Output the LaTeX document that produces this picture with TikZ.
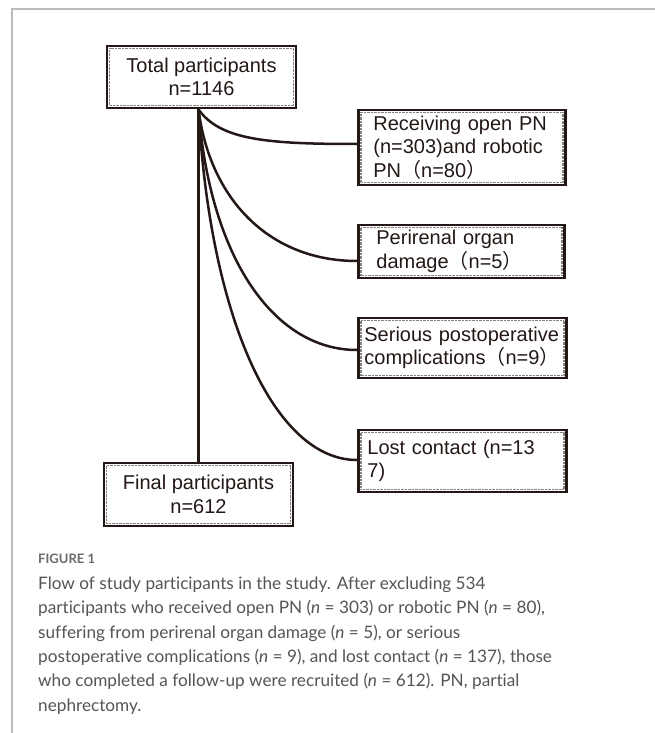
\documentclass[tikz,border=0pt]{standalone}
\usepackage{fontspec}
\setmainfont{Liberation Sans}
\newfontfamily\cjk{Noto Sans CJK SC}
\newfontfamily\capfont[Ligatures=NoCommon]{Lato}
\usetikzlibrary{calc}
\definecolor{ink}{HTML}{231815}
\definecolor{framec}{HTML}{BBBBBB}
\definecolor{capc}{HTML}{555555}
\definecolor{figc}{HTML}{6A6A6A}
\newcommand{\lp}{{\cjk （}}
\newcommand{\rp}{{\cjk ）}}
\tikzset{
  flowbox/.style={draw=ink, line width=2.8pt, fill=white, inner ysep=0pt,
    text=ink, font=\fontsize{20}{23.5}\selectfont,
    execute at begin node={\hyphenpenalty=10000\exhyphenpenalty=10000},
    path picture={\draw[ink!55, line width=1.3pt, dash pattern=on 0.7pt off 0.7pt]
      ([shift={(2.5pt,-2.5pt)}]path picture bounding box.north west) rectangle
      ([shift={(-2.5pt,2.5pt)}]path picture bounding box.south east);}},
  cbox/.style={flowbox, align=center, inner xsep=0pt},
  rbox/.style={flowbox, align=left, anchor=west},
  link/.style={draw=ink, line width=2.5pt},
  capline/.style={anchor=base west, inner sep=0pt, text=capc, font=\capfont\fontsize{17.2}{20}\selectfont},
  frameline/.style={draw=framec, line width=1.5pt}
}
\begin{document}
\begin{tikzpicture}[x=1pt,y=-1pt]
\useasboundingbox (0,0) rectangle (655,733);
\fill[white] (0,0) rectangle (655,733);
\draw[frameline] (655,9) -- (12,9) -- (12,733);

% boxes
\node[cbox, minimum width=189pt, minimum height=62pt] (tot) at (201.5,77) {Total participants\\n=1146};
\node[cbox, minimum width=189pt, minimum height=63pt] (fin) at (198.5,494.5) {Final participants\\n=612};
\node[rbox, inner xsep=15pt, text width=177pt, minimum height=75pt] (b2) at (357,147.5) {Receiving open PN\\(n=303)and robotic\\PN\lp n=80\rp};
\node[rbox, inner xsep=18pt, text width=170pt, minimum height=53pt] (b3) at (357,251.5) {Perirenal organ\\damage\lp n=5\rp};
\node[rbox, inner xsep=6pt, text width=196pt, minimum height=60pt] (b4) at (357,348) {Serious postoperative\\complications\lp n=9\rp};
\node[rbox, inner xsep=9pt, text width=190pt, minimum height=62pt] (b5) at (357,461) {Lost contact (n=13\\7)};

% connectors
\coordinate (tp) at (fin.north |- tot.south);
\draw[link] (tp) -- (fin.north);
\draw[link] (tp) .. controls (220,140) and (267,144) .. (b2.west |- 0,144);
\draw[link] (tp) .. controls (210,200) and (270,261) .. (b3.west |- 0,261);
\draw[link] (tp) .. controls (210,260) and (275,350) .. (b4.west |- 0,350);
\draw[link] (tp) .. controls (210,320) and (275,460) .. (b5.west |- 0,460);

% caption
\node[anchor=base west, inner sep=0pt, text=figc, font=\capfont\bfseries\fontsize{13}{15}\selectfont] (fig) at (38,563) {FIGURE 1};
\node[capline] (c1) at (38,589) {Flow of study participants in the study. After excluding 534};
\node[capline] (c2) at (38,613.5) {participants who received open PN (\textit{n} = 303) or robotic PN (\textit{n} = 80),};
\node[capline] (c3) at (38,638) {suffering from perirenal organ damage (\textit{n} = 5), or serious};
\node[capline] (c4) at (38,662) {postoperative complications (\textit{n} = 9), and lost contact (\textit{n} = 137), those};
\node[capline] (c5) at (38,686.5) {who completed a follow-up were recruited (\textit{n} = 612). PN, partial};
\node[capline] (c6) at (38,711) {nephrectomy.};
\end{tikzpicture}
\end{document}
